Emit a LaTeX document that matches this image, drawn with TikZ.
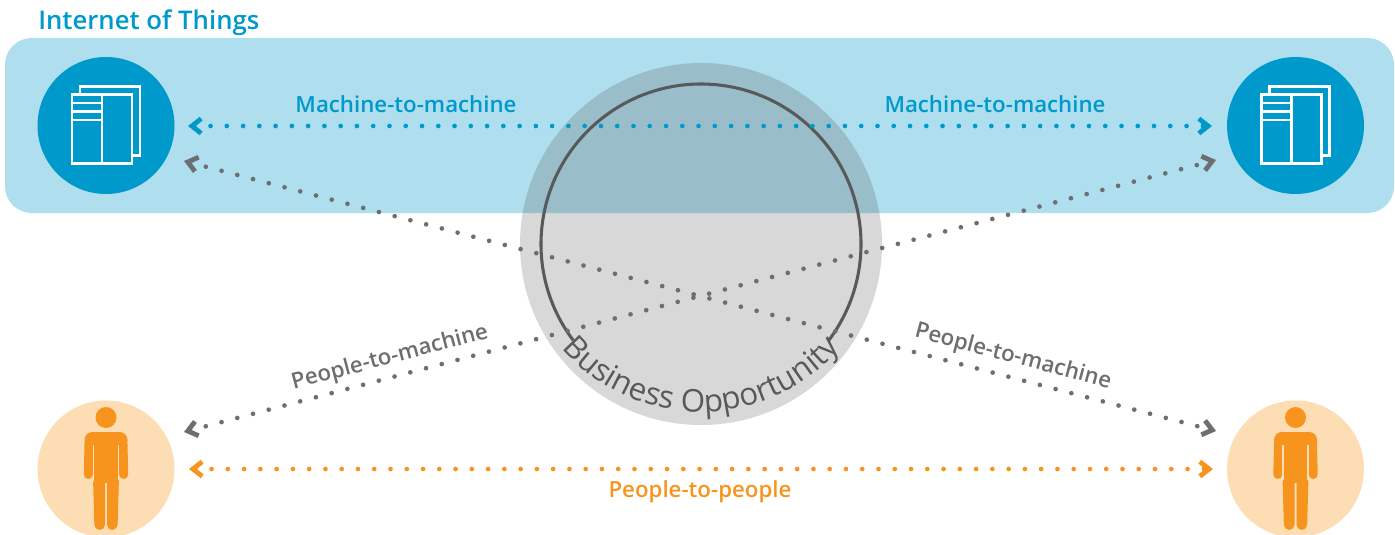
\documentclass[tikz,border=0pt]{standalone}
\usepackage{fontspec}
\setmainfont{Open Sans}[BoldFont={Open Sans Semibold}]
\usetikzlibrary{arrows.meta,decorations.text,calc}
\definecolor{iotblue}{HTML}{0099CC}
\definecolor{bandblue}{HTML}{AFDFEE}
\definecolor{orangeD}{HTML}{F7941D}
\definecolor{orangeL}{HTML}{FDDDB4}
\definecolor{dotgray}{HTML}{6D6E71}
\definecolor{arcgray}{HTML}{58595B}
\definecolor{shade}{HTML}{4D4D4D}
\newcommand\bofont{\fontsize{23.5pt}{23.5pt}\selectfont}
\tikzset{
  chev/.tip={Straight Barb[length=7pt,width=11pt,line width=3.6pt,line cap=butt,line join=miter]},
  dotline/.style={line width=3.5pt, line cap=round, dash pattern=on 0pt off 12.2pt, chev-chev},
  lbl/.style={font=\fontsize{16.7pt}{16.7pt}\selectfont\bfseries, inner sep=0pt},
  circnode/.style={circle, minimum size=102.75pt, inner sep=0pt},
  docicon/.pic={
    \draw[white, line width=1.9pt] (-26,-39) rectangle (34,30);
    \filldraw[fill=iotblue, draw=white, line width=1.9pt] (-34,-31) rectangle (26,38);
    \draw[white, line width=1.9pt] (-4,-31) -- (-4,38)
      (-34,-22.5) -- (-4,-22.5) (-34,-14) -- (-4,-14) (-34,-5.5) -- (-4,-5.5);
  },
  person/.pic={
    \fill[orangeD] (0,-51.5) circle[radius=10.5];
    \fill[orangeD, rounded corners=6pt] (-21.5,-20) -- (-21.5,-37) -- (21.5,-37) -- (21.5,-20) -- cycle;
    \fill[orangeD] (-12.5,-30) rectangle (12.5,14);
    \draw[orangeD, line width=6.75pt, line cap=round] (-17,-25) -- (-17.7,5.5) (17,-25) -- (17.7,5.5);
    \draw[orangeL, line width=1pt] (-12.5,-24) -- (-12.5,11) (12.5,-24) -- (12.5,11);
    \fill[orangeD, rounded corners=4pt] (-13,8) -- (-11.5,61) -- (-1,61) -- (-1,8) -- cycle;
    \fill[orangeD, rounded corners=4pt] (1,8) -- (1,61) -- (11.5,61) -- (13,8) -- cycle;
  }
}
\begin{document}
\begin{tikzpicture}[x=0.75pt,y=-0.75pt]
\useasboundingbox (0,0) rectangle (1395,535);
% band
\fill[bandblue, rounded corners=20pt] (5,38) rectangle (1394,213);
\node[anchor=base west, inner sep=0pt, text=iotblue, font=\fontsize{19.3pt}{19.3pt}\selectfont\bfseries] (title) at (38,30) {Internet of Things};
% business opportunity circle
\node[circle, minimum size=271.5pt, inner sep=0pt, fill=shade, fill opacity=0.22] (bo) at (701,244) {};
\draw[arcgray, line width=2.3pt] (bo.center) ++(143:160) arc[start angle=143, end angle=397, radius=160];
\path[decorate, decoration={text along path, text align=center, text color=arcgray,
   text={|\bofont|Business Opportunity}}]
   (701,228) ++(140:184) arc[start angle=140, end angle=40, radius=184];
% circles
\node[circnode, fill=iotblue] (m1) at (106,125.5) {};
\node[circnode, fill=iotblue] (m2) at (1295.5,125.5) {};
\node[circnode, fill=orangeL] (p1) at (106,469) {};
\node[circnode, fill=orangeL] (p2) at (1295.5,469) {};
\pic at (m1) {docicon};
\pic at (m2) {docicon};
\pic at (p1) {person};
\pic at (p2) {person};
% connector ends
\coordinate (mL) at ($(m1)+(82,0.5)$);
\coordinate (mR) at ($(m2)+(-83.5,0.5)$);
\coordinate (gLT) at ($(m1)+(78,35.5)$);
\coordinate (gRT) at ($(m2)+(-79.5,34.5)$);
\coordinate (gLB) at ($(p1)+(78,-37)$);
\coordinate (gRB) at ($(p2)+(-79.5,-38)$);
\coordinate (pL) at ($(p1)+(83,0)$);
\coordinate (pR) at ($(p2)+(-82.5,0)$);
% connectors
\draw[dotline, iotblue] (mL) -- (mR);
\draw[dotline, dotgray] (gLT) -- (gRB);
\draw[dotline, dotgray] (gLB) -- (gRT);
\draw[dotline, orangeD] (pL) -- (pR);
% labels
\node[lbl, text=iotblue] (l1) at (406,104.5) {Machine-to-machine};
\node[lbl, text=iotblue] (l2) at (995,104.5) {Machine-to-machine};
\node[lbl, text=dotgray, rotate=14.8] (l3) at (390,358) {People-to-machine};
\node[lbl, text=dotgray, rotate=-14.8] (l4) at (1013,357) {People-to-machine};
\node[lbl, text=orangeD] (l5) at (700,492) {People-to-people};
\end{tikzpicture}
\end{document}
